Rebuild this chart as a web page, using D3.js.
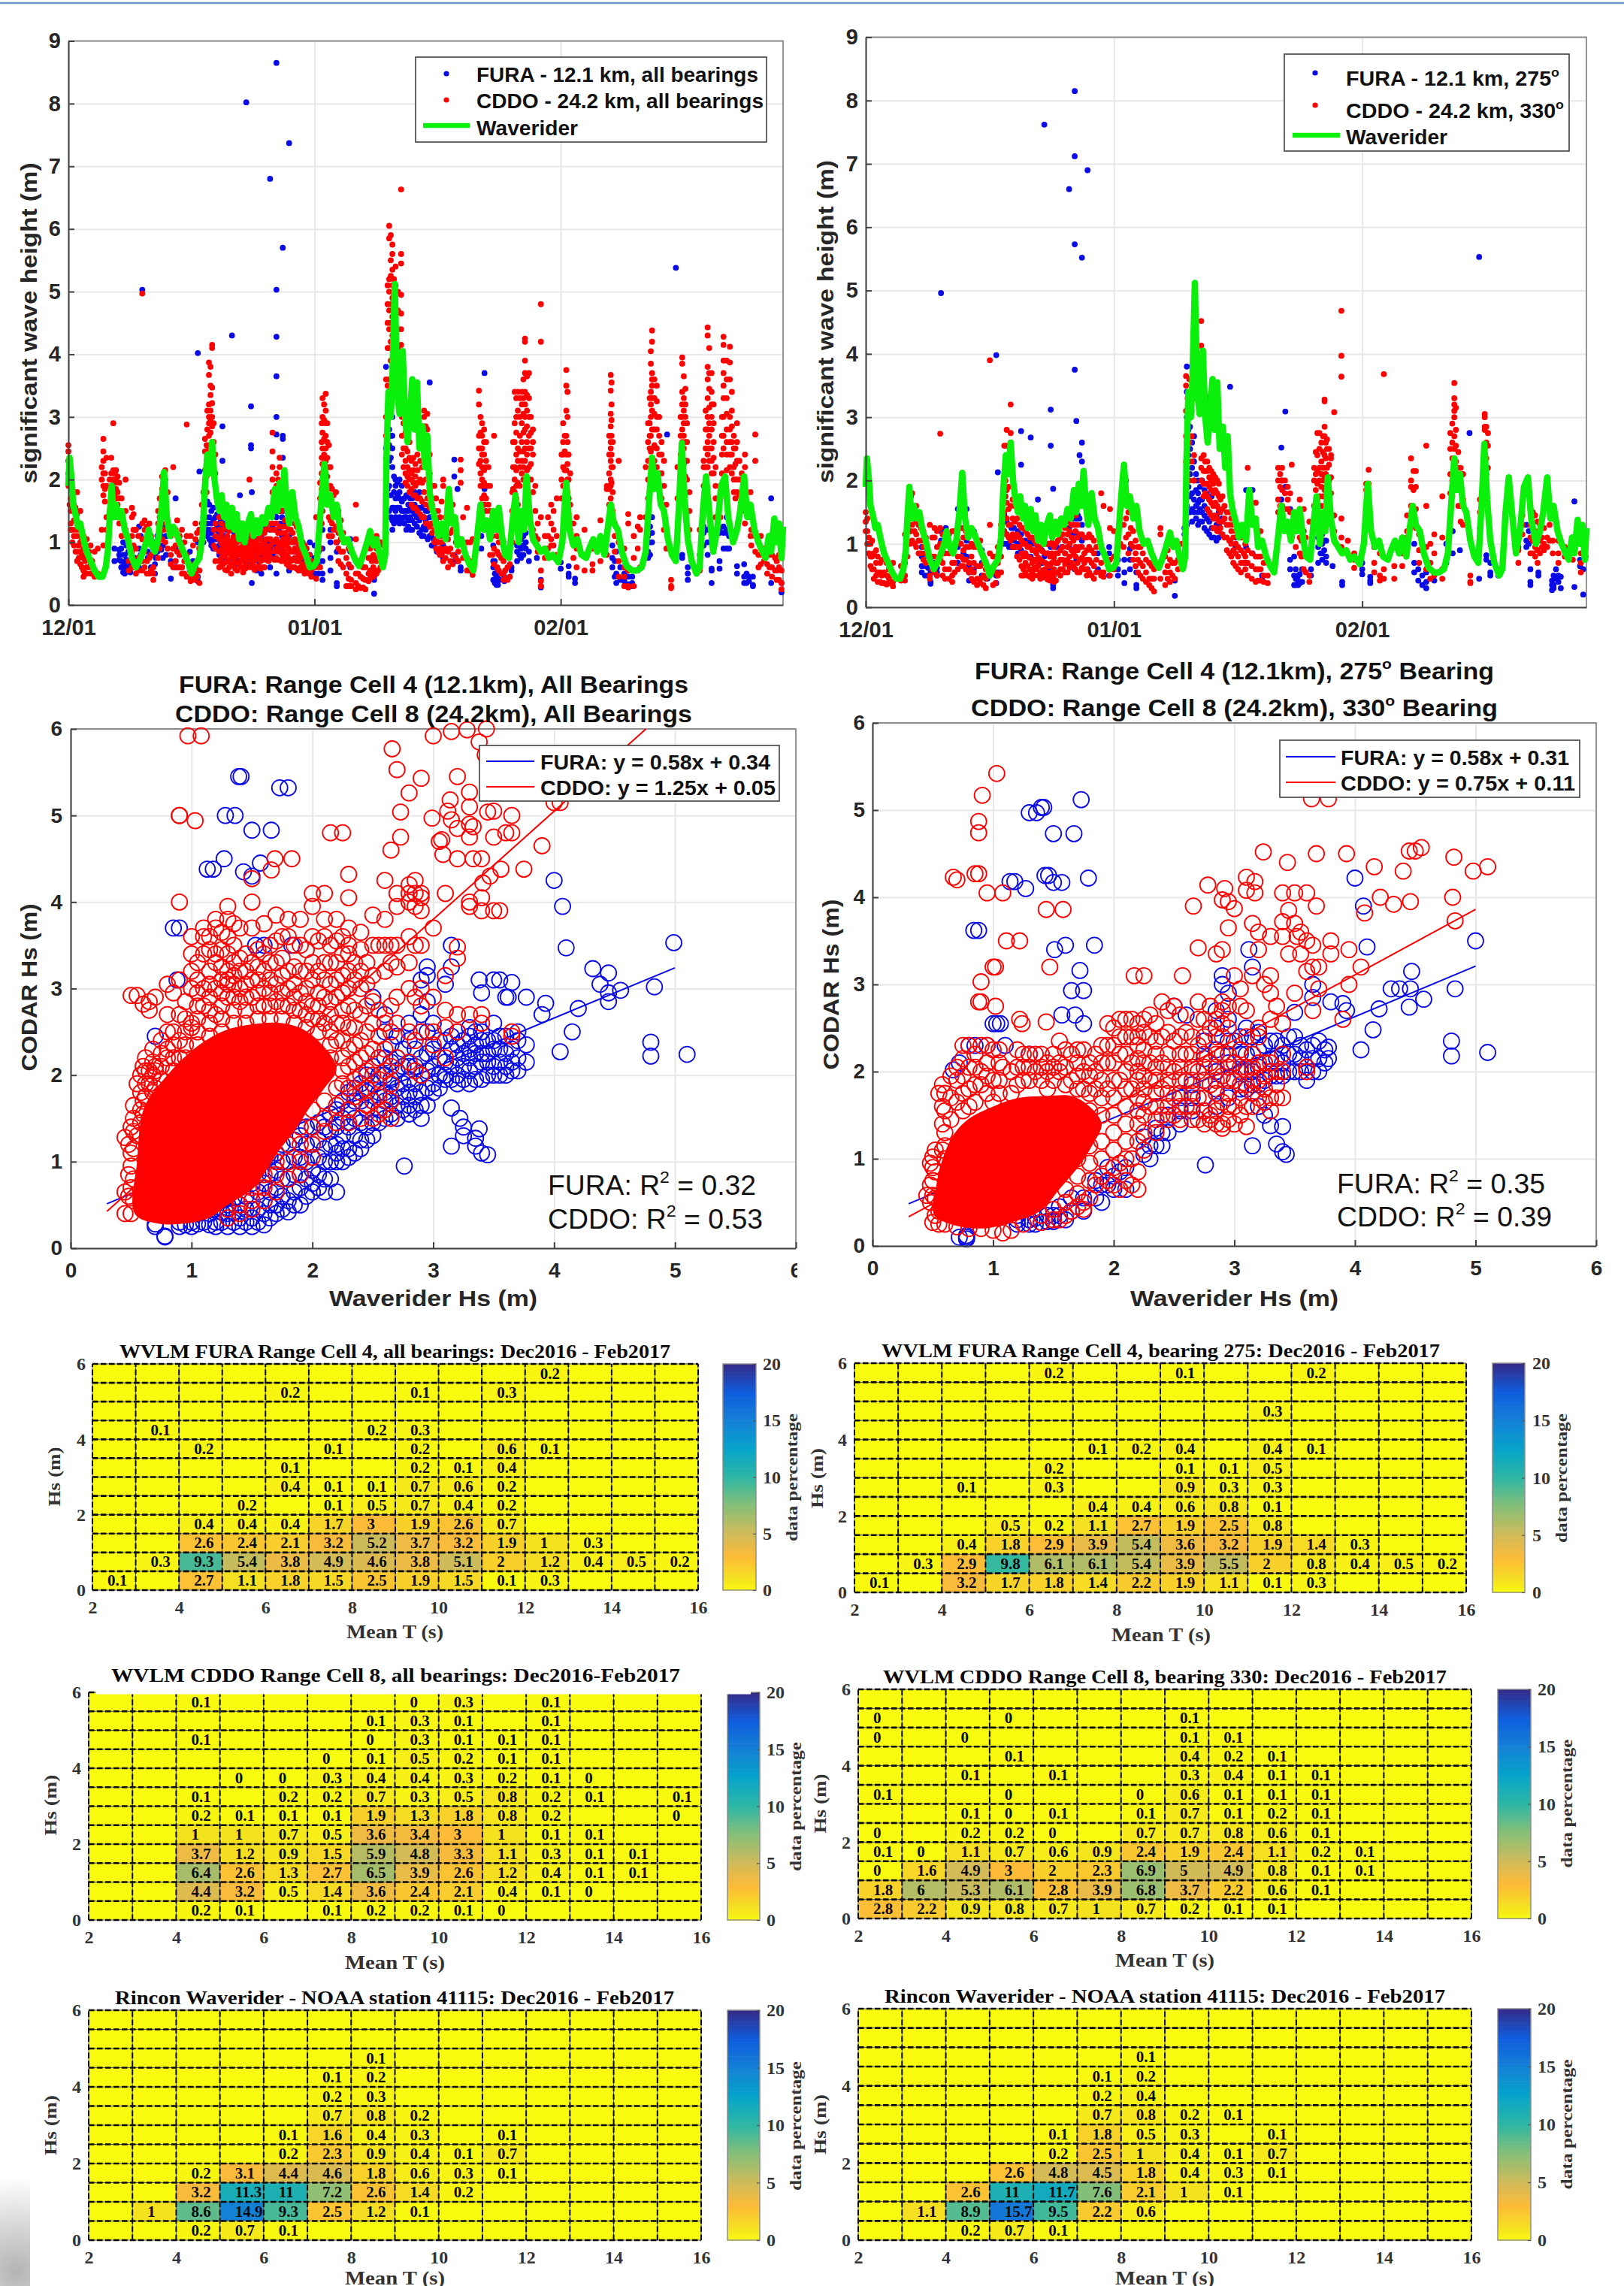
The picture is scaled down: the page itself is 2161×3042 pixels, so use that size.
<!DOCTYPE html>
<html><head><meta charset="utf-8"><style>html,body{margin:0;padding:0;background:#fff}svg{display:block}</style>
<script src="https://cdn.jsdelivr.net/npm/d3@7"></script></head><body>
<script>
const _=null;
const timeTickDays=[0,31,62], timeTickLabels=["12/01","01/01","02/01"];
const hsTicks=[0,1,2,3,4,5,6,7,8,9], scatterTicks=[0,1,2,3,4,5,6];
const heatXTicks=[2,4,6,8,10,12,14,16], heatYTicks=[0,2,4,6], cbarTicks=[0,5,10,15,20];
const parulaStops=[0,1,3,5,7.5,10,12.5,15,17.5,20];
const parulaColors=["#f9fb0e","#f4e21f","#fdbb38","#d1bb59","#87bf77","#2eb7a4","#06a4ca","#1481d6","#0f5cdd","#352a87"];

// Waverider significant wave height: [day since 12/01, Hs]
const waverider=[[0,1.9],[.15,2.35],[.4,2],[.6,1.6],[.9,1.45],[1.2,1.25],[1.5,1.3],[1.9,1.05],[2.3,.85],[2.8,.7],[3.3,.55],[3.8,.45],[4.3,.45],[4.7,.6],[5,.9],[5.2,1.4],[5.45,1.9],[5.7,1.4],[6,1.6],[6.3,1.4],[6.7,1.5],[7.1,1.2],[7.5,1.05],[8,.75],[8.5,.6],[9,.72],[9.4,.85],[9.8,1],[10.1,1.2],[10.5,.95],[10.9,.85],[11.3,1.05],[11.7,1.5],[12.05,2.12],[12.4,1.4],[12.8,1.1],[13.2,1.25],[13.6,1.15],[14,1],[14.5,.85],[15,.7],[15.5,.5],[16,.65],[16.5,.75],[16.9,1.1],[17.2,1.9],[17.5,2.4],[17.8,2.1],[18.1,2.6],[18.4,2],[18.7,1.7],[19,1.5],[19.3,1.75],[19.6,1.4],[19.9,1.6],[20.2,1.25],[20.6,1.55],[20.9,1.2],[21.2,1.45],[21.5,1.05],[21.9,1.3],[22.2,1],[22.6,1.3],[23,1.45],[23.3,1.1],[23.7,1.35],[24,1.15],[24.4,1.4],[24.8,1.3],[25.2,1.55],[25.6,1.4],[26,1.85],[26.3,1.5],[26.6,1.95],[26.9,1.6],[27.2,2.15],[27.5,1.6],[27.8,1.3],[28.2,1.8],[28.6,1.4],[29,1.25],[29.4,.95],[29.9,.8],[30.4,.6],[30.9,.62],[31.3,.7],[31.7,1.4],[32,1.9],[32.25,2.25],[32.6,1.6],[33,1.75],[33.4,1.4],[33.8,1.6],[34.2,1.2],[34.7,1],[35.2,1.05],[35.7,.85],[36.2,.7],[36.6,.62],[37,.75],[37.5,.95],[38,1.18],[38.4,.95],[38.8,1.05],[39.2,.8],[39.6,.6],[39.9,.8],[40.05,2.3],[40.3,3.4],[40.6,3],[40.8,3.6],[41.1,5.12],[41.4,3.4],[41.7,3.05],[42.1,4.05],[42.4,3],[42.7,2.6],[43,3],[43.3,3.6],[43.6,2.8],[43.9,3.55],[44.2,2.5],[44.6,2.85],[44.9,2.2],[45.2,2.7],[45.5,1.8],[45.8,1.55],[46.2,1.35],[46.6,1.1],[47,1.3],[47.5,1.05],[47.9,1.85],[48.3,1.3],[48.7,1.4],[49,.95],[49.5,1.05],[50,.8],[50.5,.65],[51,.55],[51.4,1],[51.9,1.6],[52.3,1.2],[52.7,1.35],[53.1,1.05],[53.5,1.5],[53.9,1.2],[54.2,1.55],[54.6,1.1],[55,.8],[55.5,.75],[55.9,1.3],[56.3,1.75],[56.7,1],[57.1,1.5],[57.4,1.2],[57.7,2.05],[58.1,1.4],[58.5,1.05],[59,.95],[59.5,.85],[60,.9],[60.5,.75],[61,.8],[61.7,.68],[62.2,1],[62.7,1.95],[63.1,1.2],[63.6,.95],[64.1,1.05],[64.6,.8],[65.2,.75],[65.6,.9],[66.1,1.05],[66.6,.85],[67,1.1],[67.5,.8],[67.9,1.2],[68.3,1.6],[68.7,1.3],[69.2,1.2],[69.7,.85],[70.3,.62],[71,.55],[71.6,.55],[72.2,.6],[72.7,.85],[73.1,1.6],[73.5,2.35],[73.8,1.85],[74.2,2.1],[74.6,1.6],[75,1.5],[75.5,1.05],[76,.8],[76.5,.7],[76.9,1.6],[77.25,2.58],[77.6,1.7],[78,1.05],[78.5,.7],[79.1,.5],[79.5,.6],[79.9,1.5],[80.3,2.05],[80.7,1.5],[81.2,.85],[81.7,1.2],[82.2,1.9],[82.7,2.05],[83.1,1.4],[83.7,1],[84.2,1.2],[84.6,1.5],[85.1,2.05],[85.5,1.4],[85.9,1.6],[86.4,1.2],[86.9,1],[87.4,.85],[87.8,.75],[88.2,1.1],[88.5,.85],[88.9,1.38],[89.2,1],[89.5,1.3],[89.8,.75],[90,1.25]];

// CODAR dots, rows of [day, Hs, Hs, ...]
const redAllRows=[[0,2.55,2.45,2.3,2.1,1.9],[.3,1.7,1.5,1.3,1.2],[.7,1.8,1.6,1.35,1.1,.95],[1.1,1.8,1.45,1.1,.85,.7],[1.5,1.5,1.25,1,.85,.65],[1.9,1.1,.9,.75,.55,.45],[2.3,1.05,.8,.6,.5],[2.8,.95,.65,.5],[3.3,.85,.55,.45],[3.7,.9,.5],[4.4,2.65,2.45,2.3,2.1,1.9,1.75,.95],[4.8,2.35,1.9,1.4,1.2],[5.4,2.35,2.1,1.9,1.7],[5.65,2.9,2.15,2,1.8,1.6],[6,2.15,2,1.85,1.7,1.5],[6.4,1.95,1.7,1.5,1.3],[7.2,2,1.5,1.2],[7.6,.95,.7,.55],[8,1.55,1.4,1.1,.85,.6],[8.5,1.2,.9,.6,.5],[9.3,4.97,1.3,1.05,.7,.55],[9.6,1.35,1.2,.85,.6],[10.2,1.3,1,.75,.5],[10.7,.9,.6,.4,.5],[11.3,1.5,1.3,1,.75],[11.8,2.05,1.85,1.55,1.3,1.05],[12.2,2.15,2,1.4,1],[12.9,1.1,.8,.65],[13.2,2.2,.9,.6],[13.7,1.35,1.1,.85,.6],[14.3,1.2,.9,.6,.5],[14.9,2.88,1.1,.8,.45],[15.4,1.1,.65,.45,.38],[16,1.3,1.05,.5,.4],[16.5,1.2,.9,.55,.35],[17,1.8,1.5,1.3],[17.2,2.65,2.45,2.15,2],[17.7,3.87,3.67,3.2,3,2.9,2.7,2.5],[18.1,4.15,4.1,3.47,3.22,3,2.85,2.6,2.4],[18.5,2.4,2.1,1.3,1.1,.9,.7],[19,1.4,1.2,1.05,.85,.7,.6],[19.5,1.5,1.2,1,.9,.8,.65],[20,1.3,1.1,.95,.85,.7,.55],[20.5,1.25,1,.9,.8,.65,.5],[21,1.2,1.05,.95,.85,.7,.58],[21.5,1.3,1.05,.9,.82,.65],[22,1.1,.95,.85,.75,.6,.52],[22.5,1.25,.98,.88,.72,.6],[22.8,2,1.15,1,.9,.8],[23.2,1.05,.95,.87,.75,.65],[23.7,1.2,.98,.9,.8,.6],[24.2,1.1,.95,.85,.7,.58],[24.7,1.15,.98,.88,.75,.6],[25.2,1.3,1.05,.92,.8,.7],[25.7,2.75,2.45,2.2,2,1.8,1.3,1],[26.2,2.1,1.9,1.3,1.05,.9,.75],[26.6,2.35,2.2,1.7,1.25,.95],[27,1.6,1.25,1.05,.9,.75],[27.5,1.25,1.1,.95,.8,.65],[28,1.2,1,.85,.7,.6],[28.5,1.3,1.05,.9,.75,.6],[29,1.2,.95,.8,.7,.55],[29.5,1,.85,.65,.55],[30,.9,.7,.55],[30.6,.7,.55,.45],[31.2,1.4,.6,.42],[31.7,1.95,1.7,1.3,.9,.6],[32,3.3,3,2.75,2.5,2.25,2,1.75,1.5],[32.4,3.37,3.1,2.9,2.7,2.5,2.3,2.1,1.9],[32.8,2.55,2.2,1.9,1.7,1.4,1.1],[33.2,1.85,1.6,1.3,1.1],[33.7,1.8,1.5,1.25,1],[34.3,1.35,1.05,.85,.65],[35,1,.75,.5,.3],[35.6,.85,.6,.4,.3],[36.2,1.6,1.05,.5,.35,.25],[36.8,.65,.45,.27],[37.4,.6,.4,.25],[38,.9,.75,.55,.42],[38.4,1,.8,.6,.45],[38.8,1.1,.9,.7,.5],[39.3,1,.8,.6],[39.7,.95,.75],[40,3.6,3,2.7,2.2],[40.4,6.05,5.85,5.2,5,4.7,4.4,4.1,3.6,3],[40.8,5.75,5.6,5.35,5.1,4.9,4.6,4.3,3.8,3.4],[41.2,5.4,5.1,4.6],[41.9,6.63,5.6,5.45,4.95,4.65,4.4,4.15,3.95,3.8],[42.2,3.3,2.9,2.5,2.2],[42.7,2.9,2.45,2.2,2.05,1.9],[43.2,2.3,2.1,2,1.85,1.6],[43.7,2.25,2.05,1.9,1.75,1.55],[44.3,2.7,2.3,2,1.7,1.45],[44.8,3.1,3,2.85,2.3,1.8,1.4],[45.2,3.05,2.8,2.6,1.7,1.3],[45.8,1.9,1.6,1.3,1.15],[46.3,1.7,1.35,1.05,.9],[46.8,1.4,1.1,.9,.8],[47.2,2,1.9,1.1,.85,.7],[47.8,1.3,1.05,.85,.6],[48.4,1.6,1.2,.8,.65],[49.1,1,.85,.7],[49.4,2.32,2.15,1.95,1.05],[50.2,1.55,1,.75,.55],[50.9,1.05,.55,.48],[51.7,3.42,3.2,2.7,2.5,2.25],[52.1,2.9,2.7,2.5,2.4,2.2,2,1.9,1.7],[52.6,2.6,2.3,2.2,1.9,1.7,1.5],[53.1,1.9,1.5,1.1,.8],[53.6,2.7,1.2,.9,.65],[54.2,1.4,1,.8,.55],[54.8,1,.7,.5,.4],[55.3,.9,.6,.4],[55.9,1.8,1.5,1],[56.2,3.4,2.9,2.6,2.2,2,1.8],[56.6,3.4,3.1,2.5,2.3,1.95,1.6],[57.1,3.4,3.2,2.9,2.6,2.3,2.1],[57.5,4.25,4.2,3.9,3.7,3.4,3.2,3,2.8,2.5,2.3],[58,3.7,3.3,3,2.7,2.5,2.2],[58.5,2.8,2.6,2.4,1.8,1.2],[59.1,1.3,1.05,.85],[59.5,4.8,4.2,1.4,.55,.38,.3],[60,1.1,.9,.75],[60.8,1.6,1.3,1.05,.95],[61.5,1.7,1.1,.8],[62.3,2.9,2.6,2.4,2.2,1.9],[62.7,3.75,3.5,3.1,2.7,2.4,2.15,1.95,1.7],[63.2,2.1,1.6,1.2],[64,1.4,1.1,.9,.6],[65,1.2,.8,.55],[66,.9,.65,.55],[67,1.35,.95,.7],[67.8,1.9,1.85,.8],[68.3,3.67,3.42,3.05,2.85,2.6,2.5,2.3,2,1.9,1.7],[68.8,1.3,1.1,.85],[69.3,2.3,1,.7,.45],[70,.9,.6,.45,.3],[70.5,1.45,1.3,.55,.3,.28],[71.2,1.1,.75,.3],[72,1.4,1.2,.6],[72.7,2.2,1.4,.9],[73.2,3.3,2.9,2.7,2.5,2.3,1.8],[73.5,4.38,4.2,3.7,3.6,3.5,3.3,3.1,2.8,2.5],[74.1,3.5,3.25,3,2.8,2.5,2.2,2],[74.7,2.6,2.4,2.1,1.7],[75.3,1.6,1.2,.9],[75.9,.4,.3,.27],[76.7,2.2,1.7],[77.3,3.95,3.85,3.4,3.2,3,2.8,2.6,2.4],[77.7,3.45,3.2,3,2.6,2.3,2.05],[78.2,1.8,1.5,1.2],[79.5,1.2,.8,.55],[80,2.3,2.2,1.9,1.6],[80.5,4.43,4.3,3.8,3.6,3.3,3,2.8,2.6,2.4,2.2],[81,3.7,3.4,3.2,3,2.8,2.5,2.3,2.1],[81.5,2.2,1.9,1.7,1.4],[82.1,1.9,1.7,1.4],[82.5,4.28,4.15,3.9,3.7,3.5,3.3,3,2.7,2.5],[83.3,4.12,3.87,3.6,3,2.8,2.6,2.4,2.2],[83.8,2.7,2.5,2.2,2,1.8],[84.2,2.9,2.6,2.3,2,1.8],[84.8,2.1,1.7,1.5],[85.2,2.4,2.2,1.6,1.3],[85.9,1.8,1.4,1.1],[86.5,2.72,2.3,1.1,.85],[87.2,1.1,.8,.65],[88,.85,.65,.5],[88.6,.8,.6,.45],[89.2,.7,.55,.4],[89.8,.95,.75,.55,.35,.25]];
const redAllExtra=[[.15,2.3,2,1.6],[.5,1.55,1.2,1],[.9,1.55,1.2,.85],[1.3,1.2,.95,.75],[1.7,1.05,.8,.6],[2.1,.95,.7,.5],[2.6,.85,.6],[3,.7,.5],[4.2,2.2,2,1.2],[4.6,2.1,1.85,1.65],[5.2,2,1.5],[5.85,2.1,1.95,1.75,1.55],[6.2,2.05,1.8,1.6,1.4],[6.7,1.7,1.4,1.1],[8.2,1.45,1.2,.95,.7],[8.8,1.1,.75,.55],[9.9,1.25,1,.7,.5],[10.4,1.1,.8,.55],[11.5,1.7,1.4,1.15,.9],[12,2.1,1.75,1.5,1.2],[12.5,1.8,1.25,.9],[13.5,1.2,.95,.7],[14,1.1,.8,.6],[14.6,1,.7,.5],[15.7,.95,.6,.42],[16.2,1.15,.7,.45],[16.8,1.6,1.3,1],[17.4,2.55,2.3,2.05,1.8],[17.5,3.1,2.8,2.55],[17.9,3.8,3.5,3.35,3.1,2.95,2.75,2.55,2.35],[18.3,2.9,2.6,2.3,1.2,.95],[19.25,1.3,1.12,.98,.88,.75,.62],[19.75,1.25,1.05,.93,.78,.68,.56],[20.25,1.18,1.02,.92,.83,.72,.6],[20.75,1.22,1.08,.96,.86,.76,.63],[21.25,1.15,1,.9,.78,.68,.55],[21.75,1.2,1.03,.92,.8,.7,.6],[22.25,1.16,1,.9,.8,.68,.58],[22.75,1.1,.95,.85,.74,.62],[23,1.22,1.02,.92,.82,.7,.6],[23.45,1.15,1,.9,.8,.7,.56],[23.95,1.05,.93,.84,.74,.62],[24.45,1.18,1.03,.92,.82,.72,.6],[24.95,1.22,1.05,.94,.84,.72],[25.45,1.2,1.05,.95,.85,.75],[25.95,1.5,1.2,1,.86,.72],[26.4,2,1.8,1.15,1,.85,.72],[26.85,1.5,1.15,.98,.82,.7],[27.25,1.35,1.15,1,.85,.7],[27.75,1.2,1.05,.9,.75,.62],[28.25,1.15,1,.85,.72,.6],[28.75,1.25,1,.85,.7,.58],[29.25,1.1,.9,.75,.6],[29.75,.95,.8,.62,.5],[30.3,.8,.62,.5],[31.9,2.9,2.6,2.35,2.1,1.85,1.6,1.3],[32.2,3.2,2.95,2.65,2.4,2.2,2],[32.6,2.9,2.6,2.35,2.05,1.85,1.6],[33,2.2,1.9,1.65,1.35],[33.4,1.75,1.45,1.2],[34,1.5,1.15,.9,.7],[34.6,1.15,.85,.6],[35.3,.9,.65,.42,.3],[36.5,.7,.5,.3],[37.1,.6,.42,.28],[37.8,.75,.5,.38],[38.2,.95,.7,.5],[38.6,1,.75,.55],[39,1,.75,.55],[40.2,5.1,4.8,4.5,4.1,3.5,3.1],[40.6,5.9,5.5,5.25,4.8,4.5,4.2,3.9,3.5,3.1],[41,5.2,4.95,4.7,4.4],[41.5,5,4.7,4.4,4.1],[42,3.6,3.3,3,2.7,2.4],[42.45,2.75,2.5,2.3,2.1,1.95],[42.95,2.6,2.35,2.15,2,1.8],[43.45,2.35,2.15,1.95,1.75,1.55],[43.95,2.4,2.15,1.95,1.7,1.5],[44.55,2.5,2.2,1.95,1.65,1.4],[45,2.85,2.6,2.3,2,1.6,1.3],[45.5,2.4,2.1,1.85,1.55,1.25],[46.1,1.9,1.5,1.2,1],[46.55,1.5,1.2,1,.85],[47,1.65,1.3,1,.8],[47.5,1.4,1.1,.9,.75],[48.1,1.45,1.15,.9,.7],[48.8,1.3,1,.75],[49.7,1.4,1,.75],[50.6,1,.7,.55],[51.9,3,2.75,2.5,2.3,2.1,1.9],[52.35,2.8,2.6,2.4,2.15,1.95,1.75,1.6],[52.9,2.2,1.9,1.6,1.3],[53.4,1.4,1.1,.8],[54,1.1,.85,.6],[54.5,1,.75,.5],[55,.8,.55,.42],[55.6,.65,.45],[56,2.6,2.2,1.85,1.5],[56.4,3.3,3,2.75,2.4,2.15,1.9,1.7],[56.85,3.3,3,2.7,2.45,2.2,1.9],[57.3,3.6,3.3,3.05,2.75,2.45,2.2,2],[57.75,3.65,3.35,3.1,2.85,2.6,2.4,2.15],[58.25,3,2.75,2.5,2.25,2],[58.8,1.9,1.5,1.1],[60.4,1.4,1.1,.9],[61.1,1.5,1.2,.95],[62.1,2.4,2,1.7],[62.5,2.7,2.45,2.15,1.9],[62.85,3.4,3,2.6,2.25,2,1.8],[63,2.4,2,1.7,1.45],[63.6,1.3,1,.75],[68.1,2.7,2.4,2.1,1.85,1.6],[68.4,3.55,3.2,2.95,2.7,2.4,2.2,1.95],[68.55,2.6,2.2,1.8,1.5],[71.7,1.25,.9,.55],[73,2.9,2.6,2.3,2,1.7],[73.35,4.05,3.85,3.4,3.2,3,2.7,2.45],[73.8,3.6,3.3,3.05,2.8,2.55,2.3,2.1],[74.4,3,2.7,2.4,2.1,1.85],[75,2.3,1.9,1.5,1.2],[77.1,3,2.7,2.4,2.1],[77.5,3.65,3.3,3.1,2.9,2.7,2.5,2.25],[77.9,2.9,2.6,2.3,2],[80.25,3.1,2.8,2.5,2.2,1.95],[80.7,4.1,3.7,3.45,3.15,2.9,2.7,2.5,2.3],[81.25,3.2,2.9,2.6,2.35,2.1],[82.3,3,2.7,2.4,2.1,1.85],[82.9,3.9,3.6,3.3,3.05,2.8,2.6,2.4,2.15],[83.55,3.4,3.1,2.85,2.6,2.4,2.1],[84,2.5,2.25,2,1.7],[84.5,2.3,2,1.75],[86,1.5,1.2,.95],[86.9,1,.8,.6],[87.6,.9,.7],[88.3,.8,.6],[89,.75,.55],[89.5,.8,.6,.4]];
const blueAllRows=[[6.4,.88,.8,.72],[6.9,1,.8,.62,.52],[7.3,.95,.72,.55],[7.8,.85,.68,.52],[8.4,1.2,.75,.6],[8.9,1.25,.9,.6],[9.3,5.03],[10,1,.85,.75],[10.9,.8,.65,.5],[11.2,1.1,1,.85],[11.7,1.3,1.1,.88],[12.3,1.1,.8],[12.9,.7,.42],[13.5,1.7,.9,.7,.6],[14.3,.85,.6],[15.3,.85,.55],[16,.6,.45],[16.3,4.02,1,.45,.38],[16.5,2.13,1.2,.9],[17,1.4,1],[17.5,1.65,1.3,1.2,1.1],[18,1.5,1.3,1.15,1,.95],[18.5,1.4,1.2,1.05,.9],[19,1.3,1.15,.95,.8],[19.4,2.85,2.3,1.25,1.1,.9,.7],[19.9,1.2,1.05,.85,.7],[20.6,4.3,1.2,.95,.75],[21.2,1.1,.9,.65],[21.6,1.75,1.15,.85],[22.4,8.02,1.2,.95,.7],[23,3.17,2.55,2.5,1.15,.65],[23.1,1.8,1,.75,.35],[23.7,1.05,.85,.55],[24.3,1.1,.95,.8,.5],[24.8,1.2,.95,.8],[25.4,6.8,1.2,.9,.6],[26,1.45,1.2,.95,.85],[26.2,8.65,5.03,4.28,3.65,3,2.72,1.4,.5],[26.7,1.3,.9],[27,5.7,2.7,2.65,2.35,1.5,.8],[27.8,7.37,1.1,.55],[29.5,.9,.7,.6],[30.4,1,.8],[31,.95,.75,.5],[31.5,.85,.7,.62,.5],[32,1.2,.9,.7,.5,.4],[33,1.2,1,.75,.55],[33.8,1,.85,.35,.3],[35.5,1.05,.85,.6],[38.5,.45,.4,.18],[40,1.15,2.5,2.35,3.8],[40.4,3.3,3.05,2.8,2.55,2.3,1.9,1.5],[40.8,3,2.7,2.5,2.2,1.55,1.35,1.2],[41.2,2,1.9,1.7,1.5,1.4],[41.7,2,1.8,1.7,1.55,1.4,1.3],[42.3,1.7,1.5,1.4,1.3],[42.8,1.6,1.5,1.35,1.25],[43.3,1.7,1.5,1.35,1.2],[43.9,1.75,1.55,1.4,1.25],[44.5,1.55,1.4,1.2,1.1],[45,1.5,1.35,1.2],[45.5,3.55,1.4,1.1],[46,1.3,1.05,.95],[46.8,1.2,1,.8],[47.2,.95,.75],[48.6,2.32,2.05,.8,.7],[49,1.85,.7],[49.4,.55,.6],[52,1.1,.9],[52.4,3.7,1.85,1.6],[53.5,.95,.7,.6,.4],[53.9,.6,.45,.35,.32],[54.3,.5,.4],[54.9,.45,.38],[55.8,.6,.55],[56.5,.95,.85,.7],[57,1.05,.9,.8,.75],[57.6,1.15,1,.9],[58,.85,.7],[59,.75],[59.5,.4,.3,.28],[62,.68,.58],[63,.5,.45,.62],[63.8,.35,.42],[68.5,.95,.75,.6],[69,.85,.5,.35],[70,.6,.5,.38],[71,.45,.35,.3],[73,1.1,.85,.8,.75],[73.5,1.4,1.15,1],[75.4,2.72],[76.5,5.38,.8],[77.3,.8,.75],[78,.6,.5,.4],[80,1.25,1.15,.95],[81,.55,.58,.35],[82,1.2,1.15,.7,.58],[82.9,1.4,1.2,1.15,.9],[84.2,.62,.5],[85.1,.65,.45,.35],[85.7,.45,.38],[86.2,.45,.32,.3],[88.5,1.7,.35],[89.8,.2,.35]];
const blueAllExtra=[[5.8,.9,.7],[6.65,.9,.7,.6],[7.1,.8,.65,.5],[7.55,.85,.6],[9.1,1.1,.8],[10.4,1.05,.8,.6],[11,1,.75],[11.9,1.25,.95,.75],[14,.8,.6],[15.7,.7,.5],[17.25,1.6,1.4,1.15],[17.75,1.6,1.4,1.2,1.05],[18.25,1.55,1.35,1.2,1.05,.9],[18.75,1.45,1.25,1.05,.9],[19.2,1.35,1.15,1,.85],[19.7,1.3,1.1,.95,.75],[20.2,1.2,1,.85,.7],[20.9,1.15,.95,.75],[21.4,1.1,.9,.7],[22,1.15,.9,.75],[22.7,1.2,1,.7],[23.4,1.25,1,.75],[24,1.2,.95,.7],[24.6,1.25,1,.8,.6],[25.1,1.3,1,.8],[25.7,1.45,1.25,1,.8],[26.5,1.5,1.2,.95],[26.9,1.4,1.1,.85],[27.3,1.3,1,.8],[28.5,1,.85],[40.2,2.7,2.2,1.85],[40.6,3.1,2.7,2.35,1.75,1.4],[41,2.05,1.8,1.55,1.3],[41.45,1.95,1.75,1.55,1.35],[42,1.9,1.65,1.5,1.35],[42.55,1.75,1.5,1.4,1.2],[43.05,1.7,1.55,1.4,1.2],[43.6,1.8,1.6,1.45,1.3],[44.2,1.8,1.55,1.35,1.15],[44.75,1.6,1.4,1.25,1.1],[45.25,1.5,1.25,1.05],[45.75,1.3,1.1,.95],[46.4,1.2,1,.85],[53.7,.7,.5,.35],[54.1,.55,.42,.32],[56.8,.95,.8],[57.3,1.1,.95,.8],[68.8,.7,.45],[69.5,.6,.4],[70.5,.45,.33],[73.25,1.25,1,.8],[80.5,1.2,1,.8],[82.5,1.25,1.15,.9],[83.2,1.1,.9],[85.4,.5,.35]];
const blueBearingRows=[[7,.95,.8,.65,.55],[7.8,.8,.62,.5],[8.1,.55,.4,.37],[8.9,.62,.55,.5],[9.4,4.96,1.2,1.05,.85],[10,1.25,.98],[11.5,1.55,.95,.7],[12.6,1.55,1.05,.8],[12.9,.65,.55,.42],[13.5,1.2,.98,.6],[14.5,.9,.7,.5],[15.2,.6,.45],[16.3,3.98,.5,.38],[16.5,2.13,.55],[17.3,1.45,1.2,1],[17.9,1.3,1.1,.98,.95],[18.5,1.25,1.05,.95],[19.4,2.78,2.25,1.15,.9],[20.6,2.68,1.05,.8],[21.5,1.7,.95,.7],[22.3,7.62,.8,.55],[23.1,3.12,2.55,.95,.5],[23.4,1.87,1.2,.35,.3],[24.5,.95,.75],[25.4,6.6,1.25,.95,.7],[26.1,8.15,7.12,5.73,3.75,1.3,.6],[26.3,2.94,1.4,.75],[26.7,2.4,1.4,1.1],[27,5.52,2.6,2.3,1.3,1.05],[27.7,6.9,.6],[29,.85,.6],[30.4,.95,.85,.5],[31.5,.95,.75,.6,.5],[32.3,.75,.55,.38],[33,.92,.75,.6],[33.8,.55,.35,.3],[38.6,.42,.18],[39.8,1.25,1.15],[40.1,3.8,3.4,3,2.6,2.2,1.6,1.3],[40.5,2.85,2.5,2.1,1.75,1.5],[41,2.7,2.3,2,1.7,1.5],[41.5,2,1.8,1.65,1.5,1.3],[42,2,1.7,1.5,1.35],[42.6,1.8,1.55,1.4,1.2],[43.2,1.75,1.45,1.25,1.1],[43.8,1.6,1.45,1.3,1.05],[44.5,1.4,1.15],[45.5,3.48,1.05],[46.2,1.1,.95],[47.5,1.85,.95,.7],[48.3,1.85,.85],[49.5,.5,.45],[51.9,2.52,2,1.7],[52.4,3.09,1.9],[53,1.55,.75,.6],[53.5,.8,.5,.35],[54,.5,.42,.35],[54.5,.6,.4],[55.6,.6,.5],[56.5,1.1,.95,.7],[57,1.15,1,.85,.75],[57.5,1.05,.8,.7],[58.3,.65],[59.5,.4,.35],[62,.7,.6,.52],[63,.48,.42,.38],[68.5,1,.7,.55],[69,.6,.42],[70,.55,.4,.3],[71,.42],[72.5,1,.75,.7],[73.3,1.2,.85],[74.2,.9],[75.4,2.75],[76.6,5.53,.45],[77.5,.82,.75],[78,.7,.55,.5],[79,.5],[81.5,1.15,.95],[82.5,1.3,1.05,.95],[83,.6,.4,.35],[84,.55,.5],[85.7,.42,.35,.27],[86.2,.6,.45],[86.8,.48,.3],[88.5,1.67,.32],[89.2,.65,.75],[89.6,.6,.2]];
const blueBearingExtra=[[7.4,.85,.65,.5],[8.5,.7,.55],[12.2,1.25,.85],[17.6,1.35,1.15,1],[18.2,1.25,1.05,.95],[19,1.2,1,.85],[19.9,1.05,.85,.65],[20.3,1,.8],[21,1,.75],[22,.9,.7],[22.8,1,.85,.6],[23.8,.95,.7],[24.9,1.05,.85],[25.8,1.4,1.15,.9],[26.5,1.45,1.15],[40.3,3.3,2.8,2.4,1.9,1.5],[40.75,2.6,2.2,1.8,1.55,1.35],[41.25,2.1,1.85,1.6,1.4],[41.75,1.9,1.7,1.55,1.35],[42.3,1.85,1.6,1.45,1.25],[42.9,1.7,1.5,1.35,1.15],[43.5,1.6,1.4,1.25,1.1],[44.1,1.5,1.3,1.1],[53.7,.6,.45,.35],[54.2,.52,.38],[56.8,1,.85],[57.25,1.05,.9],[69.5,.5,.35],[82.8,1.2,1],[85.9,.5,.35,.3],[86.5,.5,.4]];
const redBearingRows=[[0,1.5,1.35,1.2],[.4,1.1,1,.85],[.8,1.05,.8,.6],[1.3,.9,.7,.5],[1.8,.7,.55,.4],[2.3,.85,.55,.38],[2.9,.6,.45,.38],[3.4,.7,.4,.33],[4.4,.65,.42],[4.9,1.15,.7,.5,.42],[5.5,1.4,1.2,1],[5.8,1.8,1.6,1.3,1.05],[6.3,1.6,1.35,1.15,.95],[6.9,1.25,1.05,.85],[7.5,1.1,.85,.7],[8,1.3,.75,.5,.45],[8.6,1.25,1.1,.8,.55],[9.3,2.74,1.25,1,.75],[9.9,1,.85,.6,.45],[10.8,1.2,.95,.7,.5,.4],[11.5,1.25,1.05,.8,.6],[12.2,1.1,.9,.75,.65],[12.9,1.15,.95,.7,.55],[13.5,.95,.7,.55,.4],[14.3,1.05,.65,.45,.38],[15,.6,.45,.3],[15.5,3.9,1.3,.85,.55],[16.2,.8,.55,.38],[16.9,1.3,.8,.55],[17.3,2.55,1.5,1.2],[17.6,2.8,2.55,1.85,1.65,1.4,1.15],[18.1,3.2,2.75,2.6,1.6,1.3,1.05],[18.6,1.6,1.35,1.1,.95],[19.2,1.3,1.1,.95,.75],[19.7,1.25,1,.8,.6,.5],[20.2,1.15,.95,.8,.65,.5],[20.8,1.1,.9,.7,.55,.45],[21.3,1,.85,.72,.6],[21.8,1.15,.95,.75,.55,.45],[22.4,1,.85,.7,.6,.5],[23,1,.8,.65,.5,.42],[23.5,.95,.78,.6,.5,.4],[24,1.05,.85,.7,.55],[24.6,1.15,.95,.75,.6],[25.2,1.35,1.15,.95,.75,.55],[25.7,1.5,1.3,1.1,.9,.7],[26.2,1.45,1.2,.95,.8,.6],[26.7,1.15,.95,.75,.55],[27.3,1.1,.85,.7,.6],[27.9,1.15,.95,.75,.55],[28.5,1.05,.85,.65,.45],[29.4,1.8,.7,.55,.5],[29.7,1.6,.55,.48],[30.5,1.55,1.25,.75,.5],[31,1.2,.8,.6],[32.2,2.1,1.75,1.3,.95],[32.8,1.75,1.5,1.15,.85],[33.4,1.2,.95,.75],[34,.95,.75,.55],[34.6,.85,.65,.45],[35.4,.7,.45,.35],[36,.6,.45,.25],[36.8,1.25,1.15,.7,.45],[37.4,.8,.55,.35],[38,1,.75,.55,.4],[38.6,1,.7,.45],[39.5,1,.8,.65],[40,3.65,3.5,3.1,2.7,2.3],[40.4,3.6,3.1,2.6,2],[41,3.3,2.4,2],[41.9,4.52,4.13,2.35,2.2,2],[42.4,3.35,2.3,2.15,1.95,1.8],[42.9,3.3,2.2,2.05,1.9,1.7,1.5],[43.4,2.1,1.95,1.8,1.6,1.4,1.25],[43.9,2,1.8,1.6,1.4,1.2],[44.3,2.85,2.8,1.7,1.5,1.25],[44.8,2.6,1.6,1.4,1.1],[45.4,1.5,1.3,1.05,.85],[45.9,1.3,1.1,.9,.7],[46.5,1.2,.95,.8,.6],[47.2,1.1,.85,.7],[47.7,2.2,.9,.7,.5],[48.7,1.65,1.4,.8,.6,.4],[49.3,1.2,.8,.6,.42],[50.2,.7,.5,.38],[51.5,2.2,2,1.7,1.5],[52,2.2,2,1.85,1.6,1.4],[52.7,1.9,1.7,1.55,1.3],[53.2,2.25,1.3,1.1],[54.2,1.7,1.45,1.1,.85],[54.7,1.55,1.2,.85,.6],[55.4,1.35,.8,.5,.4],[56,2.2,2,1.6,1.3],[56.4,2.75,2.4,2.15,1.95,1.7],[56.9,2.6,2.3,2.1,1.9,1.6],[57.3,3.28,3.25,2.85,2.7,2.4,2.2,2.05,1.85],[57.6,2.65,2.5,2.2,2],[58.1,2.4,2.35,2.05,1.8],[58.5,3.08,1.45,1.2],[59.4,4.68,3.97,3.64,1.4,1.1,.95],[60.2,1.05,.85],[61,.85,.75,.62],[62.5,1.95,1.85,1.4],[62.8,2.17,1.95,1.7,1.5],[63.5,.95,.7,.55],[64.2,.85,.5,.42],[64.7,3.68,.6,.45],[66,.65,.45],[67,1.1,.85,.65],[67.6,1.45,1.2,1.1],[68.1,2.35,2,1.9,1.6,1.45],[68.7,2.15,1.9,1.55,1.25],[69.1,1.15,.9,.7],[70,2.55,1.6,.95,.6],[70.5,1,.7,.45],[71,1.15,.85,.5],[72,1.75,1.1,.6,.45],[73,2.75,2.5,2.1,1.8],[73.5,3.54,3.3,3.2,3.1,3,2.7,2.5,2.3,2.1],[74,2.45,2.2,1.95,1.6],[74.6,2.1,1.7,1.3],[75.5,1.1,.5,.4,.38],[76.7,1.7,1.5,1.25],[77.3,3.05,3,2.85,2.8,2.55,2.2],[77.7,2.75,2.55,2.2],[81.5,1.1,.9,.7],[82,1.45,1.3,1.15],[83,1.55,1.3,1.1,.85],[83.6,1.45,1.2,.95,.8],[84.2,1.3,1.05,.85],[84.7,1.55,1.25,1,.9],[85.1,1.85,1.65,1.1,.95],[85.8,1.4,1.05,.85],[86.5,1.05,.85,.7],[87.3,.95,.8],[88.3,.9,.75],[89.3,.85,.7,.55],[89.9,.95,.8]];
const redBearingExtra=[[.2,1.4,1.2,1],[.6,1,.8,.65],[1,.85,.6,.45],[1.5,.8,.55,.4],[2,.75,.5,.38],[2.6,.7,.5,.36],[3.1,.5,.38],[5.2,1.3,1.05,.8],[5.65,1.75,1.5,1.2],[6.1,1.45,1.2,1],[6.6,1.3,1.05,.85],[7.2,1.2,.95,.75],[8.3,1.1,.8,.6],[8.9,1.2,.95,.7,.5],[9.6,1.15,.9,.7,.5],[10.4,1.15,.85,.6,.45],[11.1,1.2,.95,.7,.55],[11.9,1.25,1,.8,.65],[12.5,1.2,.95,.75,.6],[13.2,1,.8,.6,.45],[13.9,.95,.65,.45,.35],[14.7,.7,.5,.35],[15.9,.8,.55,.35],[16.5,.95,.7,.5],[17.45,2,1.75,1.4],[17.85,1.9,1.55,1.3,1.1],[18.35,1.7,1.4,1.15,.95],[18.9,1.4,1.15,.95,.8],[19.45,1.25,1.05,.85,.65,.5],[19.95,1.2,1,.85,.7,.55],[20.5,1.1,.95,.78,.6,.48],[21.05,1.05,.9,.75,.62,.5],[21.55,1.1,.92,.78,.65,.5],[22.1,1.05,.88,.72,.58,.47],[22.7,1,.85,.68,.55,.44],[23.25,1.02,.85,.7,.55,.45],[23.75,1,.85,.7,.55,.42],[24.3,1.1,.9,.75,.6,.5],[24.9,1.25,1.05,.85,.68,.55],[25.45,1.4,1.2,1,.8,.62],[25.95,1.5,1.3,1.05,.85,.65],[26.45,1.3,1.1,.9,.7,.55],[27,1.15,.95,.78,.62],[27.6,1.1,.9,.75,.6,.5],[28.2,1.1,.9,.7,.5],[28.8,.95,.75,.55],[31.8,1.6,1.3,1],[32.5,2,1.7,1.4,1.1],[33.1,1.5,1.25,1],[33.7,1.05,.85,.65],[34.3,.95,.7,.5],[35,.75,.55,.4],[35.7,.65,.45,.3],[37.7,.9,.65,.45],[38.3,1,.7,.5],[39,1,.75,.6],[40.2,3.3,2.9,2.5,2.1],[40.7,3.1,2.7,2.3],[42.2,2.4,2.15,1.95,1.75],[42.65,2.3,2.15,1.95,1.75,1.55],[43.15,2.15,2,1.85,1.65,1.45],[43.65,2.05,1.85,1.65,1.45,1.25],[44.1,1.95,1.75,1.55,1.35,1.2],[44.55,1.75,1.55,1.35,1.15],[45.1,1.5,1.3,1.1,.9],[45.65,1.4,1.2,1,.8],[46.2,1.2,1,.85,.65],[46.85,1.1,.9,.7,.55],[47.4,1,.8,.6],[48.2,.85,.65,.45],[48.95,.8,.6,.42],[49.7,.7,.5,.4],[51.75,2.1,1.9,1.6,1.45],[52.35,2,1.8,1.55,1.35],[53,1.8,1.5,1.25],[53.7,1.5,1.2,.95],[54.4,1.35,1.05,.8],[54.95,1.1,.8,.55],[56.2,2.45,2.1,1.85,1.5],[56.65,2.75,2.5,2.2,2,1.75],[57.1,2.7,2.45,2.2,2,1.75],[57.45,2.6,2.35,2.1,1.9],[57.85,2.5,2.25,2,1.8],[68.4,2.15,1.85,1.55,1.3],[73.25,2.9,2.6,2.35,2,1.75],[73.7,3.15,2.8,2.55,2.3,2.1,1.85],[74.3,2.2,1.9,1.6,1.35],[77.5,2.85,2.6,2.35,2.1],[83.3,1.5,1.25,1.05,.85],[83.9,1.35,1.1,.9,.7],[84.45,1.4,1.1,.95],[85.4,1.6,1.3,1.05]];

// Scatter rings, rows of [Waverider Hs, CODAR Hs, CODAR Hs, ...]
const scatterRedAll=[[.45,.4,.65,1.28],[.5,.4,.7,1.1,1.4,.95,2.92],[.55,1.3,1.9,2.92],[.6,1.7,1.55,2.1,2.82],[.65,2.05,2.75,2.85,1.9],[.7,2.05,2.9,2.1,1.85],[.8,2.3,2.5,2.2,3.05,2.7],[.9,2.4,2.2,3.1,2.7,4,5,5],[.97,5.92],[1,2.6,3,3.2,3.4,3.6,2.55],[1.03,4.94],[1.08,5.92],[1.1,3.4,3.7,3.6,3,2.8],[1.2,3.7,3.4,3.8,3.3,3,2.7],[1.3,3.95,3.8,3.6,3.4,3.2,3.05,2.9,3.1],[1.4,3.7,3.35,3.2,3,2.85],[1.5,4,3.7,3.3,3.1,2.9,4.27],[1.6,3.75,3.4,3.2,3,2.8],[1.66,4.37],[1.69,4.5],[1.7,3.85,3.55,3.3,3.05,2.85],[1.8,3.8,3.6,3.2,3,2.8],[1.83,4.5],[1.9,3.8,3.5,3.2,2.95,2.75],[2,4.1,3.95,3.6,3.3,3.1,2.8,2.65],[2.1,4.1,3.8,3.6,3.3,3.1,2.9,2.6],[2.15,4.8],[2.2,3.8,3.55,3.3,3.1,2.9,2.6,2.4],[2.25,4.8],[2.3,4.32,4.05,3.7,3.5,3.4,3.2,3,2.8,2.55,2.3,2.1],[2.4,3.65,3.45,3.2,3,2.7,2.4,2.2,2,1.8,1.5],[2.5,3.85,3.5,3.15,2.85,2.6,2.3,2,1.7,1.5],[2.6,4.25,3.8,3.5,3.2,2.6,2.3,2.05,1.6],[2.65,4.6],[2.66,5.77],[2.7,4.1,3.95,3.5,3.25,2.9,2.6,2.2,5.53],[2.73,5.04,4.75],[2.8,4.2,4.1,4,3.6,3.3,3,2.5,2.15,5.26],[2.85,4.25,4.1,3.95,3.5,2.9,2.4,2.05],[2.9,4.1,4.05,3.9,3.5,3,2.8,2.5,2,5.43],[3,3.7,2.9,2.5,2.35,5.92],[2.99,4.97],[3.05,4.7],[3.07,4.72],[3.08,4.55],[3.1,4.1,3.15,2.75,2.55,2.2],[3.12,5.05],[3.14,5.18],[3.15,5.97,4.95],[3.2,3.35,3.48,2.7,2.5,5.45,4.85,4.5],[3.28,5.99],[3.3,3.95,4,2.7,5.27,5.1,4.9,4.75],[3.33,4.87,4.5],[3.38,5.85],[3.4,4.05,2.7,2.6,3.9,4.5],[3.41,4.22],[3.44,6],[3.43,5.7],[3.45,5.04],[3.47,4.3],[3.5,3.9,5.05,4.75],[3.55,3.9],[3.56,4.38],[3.6,4.8],[3.65,2.5,2.45,5,4.8],[3.75,4.38],[3.9,4.65],[4,5.15],[4.05,5.15]];
const scatterRedAllExtra=[[.48,.6,.85,1.2],[.52,.55,.8,1.15,1.35,1.5,1.65],[.58,1.45,1.6,1.8,2],[.62,1.75,1.9,2.05,2.2],[.68,1.8,2,2.15,2.3],[.75,1.95,2.1,2.25,2.4],[.85,2.05,2.2,2.35,2.5,2.95],[.95,2.2,2.35,2.5,2.65,2.85],[1.05,2.35,2.5,2.65,2.8,2.95,3.1,3.3],[1.15,2.45,2.6,2.75,2.9,3.05,3.2,3.45,3.6],[1.25,2.5,2.65,2.8,2.95,3.1,3.25,3.45,3.65],[1.35,2.6,2.75,2.9,3.05,3.15,3.3,3.5,3.75],[1.45,2.6,2.75,2.9,3.05,3.2,3.4],[1.55,2.65,2.8,2.95,3.1,3.25,3.45],[1.65,2.65,2.8,2.95,3.1,3.3,3.5],[1.75,2.65,2.8,2.95,3.15,3.35,3.6],[1.85,2.6,2.75,2.9,3.05,3.25,3.5],[1.95,2.55,2.7,2.85,3,3.2,3.45],[2.05,2.5,2.65,2.8,2.95,3.2,3.55],[2.15,2.2,2.35,2.5,2.7,2.85,3.05,3.3,3.5],[2.25,1.9,2.05,2.2,2.4,2.6,2.75,2.95,3.15,3.4,3.6],[2.35,1.75,1.95,2.15,2.35,2.55,2.75,3.1,3.3],[2.45,1.65,1.85,2.05,2.25,2.5,2.8,3.05,3.3],[2.55,1.55,1.75,1.95,2.2,2.45,2.75,3.5],[2.65,1.5,1.7,1.9,2.1,2.5,2.8,3.3,3.5],[2.1,1.7,1.5,1.35],[2,1.6,1.4,1.2,1.05],[1.9,1.4,1.2,1,.85],[1.8,1.2,1,.8],[1.7,1,.85,.65],[1.6,.85,.7,.55],[1.5,.7,.55,.45],[1.4,.5,.4],[1.3,.45,.35],[2.2,1.85,1.65,1.45],[2.3,1.85,1.6,1.45]];
const scatterBlueAll=[[.7,.28,.25,2.45],[.78,.13,.14],[.85,3.7],[.88,3.1],[.9,.3,.25,3.7],[1,.3,.25],[1.1,.3,.5],[1.13,4.38],[1.18,4.38],[1.2,.25,.3,.45],[1.27,4.5],[1.28,5],[1.3,.25,.4,.5,.6],[1.36,5],[1.39,5.45],[1.4,.25,.35,.5,.7],[1.41,5.45],[1.43,4.35],[1.5,.25,.35,.55,.75,.9,4.83,4.3],[1.53,3.5],[1.57,4.45],[1.6,.27,.4,.55,.75,1,3.5],[1.66,4.83],[1.7,.4,.5,.7,.9,1.1],[1.73,5.32],[1.8,.42,.55,.8,1,1.2,5.32],[1.83,3.5],[1.9,.5,.7,.85,1.05,1.3],[2,.65,.75,.9,1.2,1.4],[2.1,.65,.8,1,1.15,1.4],[2.2,.65,1,1.1,1.2,1.4,1.6],[2.3,1.05,1.15,1.4,1.6,1.8],[2.4,1.15,1.25,1.45,1.7,1.9],[2.5,1.3,1.45,1.7,1.9,2.1,2.9],[2.6,1.5,1.7,1.8,2,2.2,2.5,2.7],[2.7,1.5,1.65,1.85,2.05,2.2,2.45],[2.76,.95],[2.8,1.55,1.65,1.8,1.95,2.1,2.4,2.6],[2.9,1.5,1.65,1.8,2,2.2,2.5,2.7,3.1],[2.95,3.25],[3,1.8,1.9,2.1,2.3,2.6],[3.1,1.95,2,2.15,2.4,3.05],[3.15,1.62,1.18,3.5,3.25],[3.2,1.9,2,2.2,2.35,2.5],[3.22,1.5],[3.25,1.4,1.3],[3.3,1.9,2.05,2.2,2.3,2.45,2.55],[3.35,1.27,1.18],[3.38,1.38,3.1],[3.4,1.95,2.15,2.25,2.4,2.5,2.95,1.1],[3.45,1.08],[3.5,2,2.1,2.3,2.4,2.6,3.1],[3.55,3.1],[3.6,2,2.1,2.25,2.45,2.9],[3.62,2.9],[3.65,3.07],[3.7,2.05,2.2,2.4,2.5],[3.77,2.15,2.35,2.9],[3.9,2.7],[3.93,2.83],[4,4.25],[4.05,2.27],[4.07,3.95],[4.1,3.47],[4.15,2.5],[4.2,2.77],[4.32,3.23],[4.38,3.05],[4.45,3.18,2.95,2.85],[4.55,2.98],[4.8,2.38,2.22],[4.83,3.02],[4.99,3.53],[5.1,2.24]];
const scatterBlueAllExtra=[[.95,.27],[1.05,.28,.4],[1.15,.27,.4],[1.25,.3,.42,.55],[1.35,.3,.42,.58],[1.45,.3,.45,.6,.8],[1.55,.3,.45,.65,.85],[1.65,.35,.5,.65,.85,1.05],[1.75,.45,.6,.8,1,1.2],[1.85,.5,.65,.85,1.05,1.25],[1.95,.6,.8,1,1.2,1.4],[2.05,.7,.85,1.05,1.25,1.45],[2.15,.8,1,1.2,1.35,1.55],[2.25,1,1.15,1.3,1.5,1.7],[2.35,1.1,1.3,1.5,1.7,1.85],[2.45,1.25,1.4,1.6,1.8,2],[2.55,1.45,1.6,1.8,2,2.2],[2.65,1.55,1.75,1.95,2.15,2.35],[2.75,1.6,1.75,1.9,2.1,2.3],[2.85,1.6,1.75,1.9,2.1,2.3],[2.95,1.65,1.85,2.05,2.25,2.5,2.85,3.15],[3.05,1.85,2,2.2,2.4],[3.15,1.95,2.1,2.3,2.45],[3.25,1.95,2.1,2.25,2.4],[3.35,1.95,2.1,2.25,2.35,2.5],[3.45,2,2.15,2.25,2.4],[3.55,2,2.15,2.3,2.45],[3.65,2.05,2.15,2.3]];
const scatterRedBearing=[[.45,.58],[.5,.27,.75,.9,1.02,.58],[.55,.4,.25,1.75],[.6,.25,1,1.15,1.3,1.55,1.75],[.67,4.23],[.7,1.9,1.65,2.05,.22,4.2],[.8,1.8,2.05,2.3,1.6,.2],[.85,4.27],[.88,4.27,4.87,4.74,2.8],[.9,1.85,2,2.3,.2,3.03,2.8],[.91,5.17],[.95,4.05],[1,1.65,1.9,2.25,.18,3.2],[1.02,3.2,2.75],[1.03,5.42],[1.08,2.05,.15,4.05],[1.11,3.5],[1.15,1.75,2,.18],[1.22,3.5,2.6],[1.24,2.55],[1.25,1.9,2.2,2.05,.25],[1.35,2,2.2],[1.44,3.86,2.57],[1.45,2.1,2,1.8],[1.47,3.2],[1.55,2.1,2.35,2,.3],[1.58,3.86],[1.65,2.2,1.9,.4],[1.75,2.25,2,1.8,.42,.5],[1.85,2.2,2,1.8,.7],[1.95,2.55,2.3,2.1,1.8,.75],[2.05,2.6,2.4,2.2,1.9,.95,.65],[2.15,2.6,2.4,2.1,1.8,.7,1],[2.17,3.1],[2.2,.65,.85,1.4,1.7,2.55,2.3,2],[2.25,3.1],[2.3,2.65,2.4,2.1,1.9,1.6],[2.4,2.8,2.4,2.1,1.8,1.5],[2.5,2.75,2.35,2,1.7,1.5],[2.57,3.1],[2.6,2.45,2.2,1.9,1.6],[2.66,3.9],[2.7,2.6,2.8,2.3,2,1.7,1.45,3.42],[2.78,4.14],[2.8,2.75,2.5,2.1,1.85,1.5,1.45],[2.85,3.35],[2.9,2.8,2.7,2.55,2.4,2.2,1.95,1.65,1.4,1.35,3.4,3.97],[2.92,4.1],[2.95,3.95,3.65],[3,2.1,1.9,1.6,1.4,3.87,3.1],[3.05,2.95,2.75],[3.1,2.4,2.05,1.85,1.6,1.37,4.23,4.08,2.7],[3.15,3.7,3.1],[3.17,4.18,4.05],[3.2,2.5,2.1,1.9,1.7,3.6,3.4,2.4],[3.24,4.52],[3.25,3],[3.3,2.1,2,1.7,1.55,3.55,3.1,2.9,2.6],[3.35,2.75],[3.4,2.2,2,1.7,4.05,3.72,3.55,2.55],[3.44,4.4],[3.45,3.85,3.35],[3.5,4.05,3.7,2.9],[3.52,3.55],[3.55,3.6,3.35],[3.6,2.05,2,4.05,3.5,3.15],[3.64,5.13],[3.65,3.45,3.2,2.7],[3.68,4.5,3.9],[3.7,3.2,2.95],[3.78,5.13],[3.8,3.5,3.35],[3.9,2.6],[3.93,4.5],[3.95,3.4,3],[4.05,3.2],[4.08,3.82],[4.16,4.35],[4.21,4],[4.32,3.92],[4.4,4.3],[4.45,4.53],[4.46,3.95],[4.5,4.53],[4.55,4.57],[4.81,4],[4.82,4.46],[4.83,3.73],[4.98,4.3],[5.1,4.35]];
const scatterRedBearingExtra=[[.48,.5,.7,.95],[.52,.35,.55,.85,1.1],[.58,1.1,1.4,1.6,1.85],[.65,1.45,1.7,1.95],[.75,1.55,1.75,1.95,2.15,2.3],[.85,1.65,1.85,2.05,2.2],[.95,1.75,1.95,2.1,2.3],[1.05,1.75,1.9,2.1,2.25],[1.2,1.85,2.05,2.25],[1.3,1.9,2.05,2.2],[1.4,1.9,2.05,2.2],[1.5,1.9,2.05,2.2],[1.6,1.85,2.05,2.25],[1.7,1.8,1.95,2.1,2.25],[1.8,1.55,1.75,1.95,2.1],[1.9,1.5,1.7,1.9,2.1,2.3],[2,1.1,1.3,1.5,1.7,1.9,2.1,2.3,2.5],[2.1,.75,1,1.2,1.4,1.6,1.8,2,2.2,2.4,2.6],[2.2,1.2,1.55,1.9,2.15,2.4],[2.25,1.1,1.3,1.5,1.65,1.8,1.95,2.1,2.25,2.45,2.6],[2.35,1.3,1.45,1.6,1.75,1.9,2.05,2.2,2.35,2.55],[2.45,1.45,1.6,1.75,1.9,2.05,2.2,2.45,2.7],[2.55,1.45,1.6,1.75,1.9,2.05,2.2,2.4,2.65],[2.65,1.45,1.6,1.75,1.9,2.05,2.2,2.4],[2.75,1.4,1.55,1.7,1.9,2.05,2.2,2.4,2.6],[2.85,1.4,1.55,1.75,1.9,2.05,2.2,2.4,2.6],[2.95,1.45,1.6,1.75,1.9,2.05,2.2,2.5,2.75],[3.05,1.5,1.7,1.85,2.05,2.25],[3.15,1.6,1.75,1.9,2.05,2.2],[3.25,1.65,1.8,1.95,2.1],[3.35,1.7,1.85,2],[2,.7,.9],[1.9,.8,1,1.2],[1.8,.55,.75,.95,1.15],[1.7,.45,.6,.8,1],[1.6,.35,.5,.65],[1.5,.3,.42],[1.4,.27,.35]];
const scatterBlueBearing=[[.67,2.02],[.72,.1,2.1],[.78,.1,.08,.12],[.8,2.3],[.84,3.62],[.85,2.3],[.88,3.62],[.95,2.3],[1,2.55],[1.03,2.55],[1.06,2.55],[1.1,2.3],[1.14,4.18],[1.18,4.18],[1.2,.25,.35],[1.27,4.1],[1.3,.25,.3,4.97,2.2],[1.36,4.97],[1.4,.27,5.03],[1.42,5.03],[1.43,4.25],[1.46,4.25],[1.5,.28,.35,4.73,4.17],[1.51,3.4],[1.57,2.65,4.17],[1.6,.3,3.45],[1.65,2.93],[1.67,4.73],[1.68,2.65],[1.72,3.16],[1.73,5.12],[1.75,.4,.55,2.93,2.55],[1.79,4.22],[1.84,3.45],[1.9,.5,.7],[2,.65,.8],[2.1,.9,.65],[2.3,1,1.15],[2.4,1.15,1.3],[2.5,2.75],[2.6,2.65],[2.76,.93],[2.9,3.1,3],[2.95,2.9],[3,1.9,2.1,2.35],[3.1,1.8,2,2.2,2.5],[3.12,3.4],[3.15,3.2,1.15],[3.2,1.85,2.05,2.25,2.45,1.6],[3.25,1.5],[3.3,1.95,2.15,2.35,1.38],[3.35,1.17],[3.4,1.95,2.1,2.3,1.37,1.08],[3.43,1.05],[3.5,2,2.2,2.4,2.68],[3.6,1.9,2.05,2.25],[3.65,3,2.85],[3.7,2,2.15,2.35],[3.78,2.15,2.28],[3.8,2.8],[3.9,2.78],[3.93,2.7],[4,4.22],[4.05,2.25],[4.07,3.9],[4.1,3.43],[4.15,2.48],[4.2,2.72],[4.3,2.95],[4.37,2.95],[4.45,2.74],[4.46,2.95],[4.47,3.15],[4.57,2.83],[4.8,2.35,2.18],[4.83,2.95],[5,3.5],[5.1,2.22]];
const scatterBlueBearingExtra=[[1.2,.3],[1.35,.25,.32],[1.45,.28,.35],[1.55,.35,.45],[1.65,.4,.55],[1.85,.55,.75],[1.95,.7,.9],[2.05,.85],[2.25,1.05,1.25],[2.35,1.15,1.35],[2.45,1.3,1.5],[2.55,1.4,1.55,1.7],[2.65,1.55,1.7,1.85,2.05],[2.75,1.55,1.7,1.9,2.15,2.35],[2.85,1.6,1.8,2,2.25,2.5,2.7],[2.95,1.7,1.9,2.1,2.35,2.6],[3.05,1.8,2,2.2,2.4],[3.15,1.85,2,2.2,2.4],[3.25,1.9,2.1,2.3],[3.35,1.95,2.15,2.35],[3.45,2,2.2,2.4],[3.55,2,2.15,2.3],[3.65,2,2.15,2.3],[3.75,2.1,2.25]];
// Solidly overplotted core of the red rings: outline as [Waverider Hs, CODAR Hs]
const denseCoreAll=[[.53,.4],[.55,1],[.61,1.63],[.8,2],[1,2.28],[1.25,2.5],[1.47,2.58],[1.75,2.6],[1.98,2.48],[2.2,2.08],[2.1,1.85],[1.98,1.63],[1.85,1.35],[1.73,1.14],[1.62,.9],[1.51,.69],[1.3,.5],[1.13,.34],[.9,.28],[.7,.29]];
const denseCoreBearing=[[.51,.36],[.53,.7],[.57,.95],[.66,1.25],[.79,1.45],[1,1.6],[1.22,1.7],[1.45,1.72],[1.65,1.72],[1.8,1.6],[1.9,1.4],[1.82,1.15],[1.73,.95],[1.55,.65],[1.39,.4],[1.15,.27],[.91,.2],[.65,.25]];
const fitAll={fura:[.58,.34],cddo:[1.25,.05]}, fitBearing={fura:[.58,.31],cddo:[.75,.11]};
const fitRange=[.3,5];

// Heat maps: rows of [Hs bin start, T of first cell, values...]; null = empty cell
const heatFuraAll=[[5.5,12,.2],[5,6,.2,_,_,.1,_,.3],[4,3,.1,_,_,_,_,.2,.3],[3.5,4,.2,_,_,.1,_,.2,_,.6,.1],[3,6,.1,_,_,.2,.1,.4],[2.5,6,.4,.1,.1,.7,.6,.2],[2,5,.2,_,.1,.5,.7,.4,.2],[1.5,4,.4,.4,.4,1.7,3,1.9,2.6,.7],[1,4,2.6,2.4,2.1,3.2,5.2,3.7,3.2,1.9,1,.3],[.5,3,.3,9.3,5.4,3.8,4.9,4.6,3.8,5.1,2,1.2,.4,.5,.2],[0,2,.1,_,2.7,1.1,1.8,1.5,2.5,1.9,1.5,.1,.3]];
const heatFura275=[[5.5,6,.2,_,_,.1,_,_,.2],[4.5,11,.3],[3.5,7,.1,.2,.4,_,.4,.1],[3,6,.2,_,_,.1,.1,.5],[2.5,4,.1,_,.3,_,_,.9,.3,.3],[2,7,.4,.4,.6,.8,.1],[1.5,5,.5,.2,1.1,2.7,1.9,2.5,.8],[1,4,.4,1.8,2.9,3.9,5.4,3.6,3.2,1.9,1.4,.3],[.5,3,.3,2.9,9.8,6.1,6.1,5.4,3.9,5.5,2,.8,.4,.5,.2],[0,2,.1,_,3.2,1.7,1.8,1.4,2.2,1.9,1.1,.1,.3]];
const heatCddoAll=[[5.5,4,.1,_,_,_,_,0,.3,_,.1],[5,8,.1,.3,.1,_,.1],[4.5,4,.1,_,_,_,0,.3,.1,.1,.1],[4,7,0,.1,.5,.2,.1,.1],[3.5,5,0,0,.3,.4,.4,.3,.2,.1,0],[3,4,.1,_,.2,.2,.7,.3,.5,.8,.2,.1,_,.1],[2.5,4,.2,.1,.1,.1,1.9,1.3,1.8,.8,.2,_,_,0],[2,4,1,1,.7,.5,3.6,3.4,3,1,.1,.1],[1.5,4,3.7,1.2,.9,1.5,5.9,4.8,3.3,1.1,.3,.1,.1],[1,4,6.4,2.6,1.3,2.7,6.5,3.9,2.6,1.2,.4,.1,.1],[.5,4,4.4,3.2,.5,1.4,3.6,2.4,2.1,.4,.1,0],[0,4,.2,.1,_,.1,.2,.2,.1,0]];
const heatCddo330=[[5,2,0,_,_,0,_,_,_,.1],[4.5,2,0,_,0,_,_,_,_,.1,.1],[4,5,.1,_,_,_,.4,.2,.1],[3.5,4,.1,_,.1,_,_,.3,.4,.1,.1],[3,2,.1,_,_,0,_,_,0,.6,.1,.1,.1],[2.5,4,.1,0,.1,_,.1,.7,.1,.2,.1],[2,2,0,_,.2,.2,0,_,.7,.7,.8,.6,.1],[1.5,2,.1,0,1.1,.7,.6,.9,2.4,1.9,2.4,1.1,.2,.1],[1,2,0,1.6,4.9,3,2,2.3,6.9,5,4.9,.8,.1,.1],[.5,2,1.8,6,5.3,6.1,2.8,3.9,6.8,3.7,2.2,.6,.1],[0,2,2.8,2.2,.9,.8,.7,1,.7,.2,.1,.1]];
const heatRinconL=[[4.5,8,.1],[4,7,.1,.2],[3.5,7,.2,.3],[3,7,.7,.8,.2],[2.5,6,.1,1.6,.4,.3,_,.1],[2,6,.2,2.3,.9,.4,.1,.7],[1.5,4,.2,3.1,4.4,4.6,1.8,.6,.3,.1],[1,4,3.2,11.3,11,7.2,2.6,1.4,.2],[.5,3,1,8.6,14.9,9.3,2.5,1.2,.1],[0,4,.2,.7,.1]];
const heatRinconR=[[4.5,8,.1],[4,7,.1,.2],[3.5,7,.2,.4],[3,7,.7,.8,.2,.1],[2.5,6,.1,1.8,.5,.3,_,.1],[2,6,.2,2.5,1,.4,.1,.7],[1.5,5,2.6,4.8,4.5,1.8,.4,.3,.1],[1,4,2.6,11,11.7,7.6,2.1,1,.1],[.5,3,1.1,8.9,15.7,9.5,2.2,.6],[0,4,.2,.7,.1]];

const W=2161,H=3042,SANS='"Liberation Sans",Arial,sans-serif',SERIF='"Liberation Serif","Times New Roman",serif';
const BLUE="#0a0ae6",RED="#ff0000",GREEN="#0bf00b",INK="#262626",INT=d3.format("d");
const svg=d3.select("body").append("svg").attr("width",W).attr("height",H).attr("viewBox",`0 0 ${W} ${H}`);
svg.append("rect").attr("width",W).attr("height",H).attr("fill","#fff");
const defs=svg.append("defs");
svg.append("line").attr("x1",0).attr("x2",W).attr("y1",4).attr("y2",4).attr("stroke","#6a97cc").attr("stroke-width",2.5);
const cg=defs.append("radialGradient").attr("id","corner").attr("gradientUnits","userSpaceOnUse").attr("cx",22).attr("cy",3022).attr("r",125);
cg.append("stop").attr("offset",0).attr("stop-color","#b4b4b4");cg.append("stop").attr("offset",.55).attr("stop-color","#dcdcdc");cg.append("stop").attr("offset",1).attr("stop-color","#ffffff");
svg.append("rect").attr("x",0).attr("y",2897).attr("width",40).attr("height",145).attr("fill","url(#corner)");

// text helper: parts may contain [string] entries that are raised as superscripts
function label(g,o){
  const t=g.append("text").attr("font-family",o.family||SANS).attr("font-size",o.size).attr("font-weight",o.weight||"bold")
    .attr("fill",o.fill||INK).attr("text-anchor",o.anchor||"start");
  if(o.rot) t.attr("transform",`translate(${o.x},${o.y}) rotate(${o.rot})`); else t.attr("x",o.x).attr("y",o.y);
  const parts=Array.isArray(o.t)?o.t:[o.t]; let raised=false;
  parts.forEach(p=>{
    const sup=Array.isArray(p), s=t.append("tspan").text(sup?p[0]:p);
    if(sup){s.attr("dy",-o.size*.45).attr("font-size",o.size*.62);raised=true;}
    else if(raised){s.attr("dy",o.size*.45);raised=false;}
  });
  if(o.len) t.attr("textLength",o.len).attr("lengthAdjust","spacingAndGlyphs");
  return t;
}
const expand=rows=>rows.flatMap(([x,...ys])=>ys.map(y=>[x,y]));

function styleAxis(a,size,family){
  a.select(".domain").attr("stroke","#404040").attr("stroke-width",2);
  a.selectAll(".tick line").attr("stroke","#404040").attr("stroke-width",2);
  a.selectAll("text").attr("font-family",family).attr("font-weight","bold").attr("font-size",size).attr("fill",INK);
  a.attr("font-family",null).attr("font-size",null);
}
function frame(g,x,y,cfg){
  const [x0,x1]=x.range(),[y0,y1]=y.range();
  const gx=g.append("g").attr("transform",`translate(0,${y0})`).call(d3.axisBottom(x).tickValues(cfg.xt).tickSize(-(y0-y1)).tickFormat(""));
  const gy=g.append("g").attr("transform",`translate(${x0},0)`).call(d3.axisLeft(y).tickValues(cfg.yt).tickSize(-(x1-x0)).tickFormat(""));
  [gx,gy].forEach(a=>{a.select(".domain").remove();a.selectAll("line").attr("stroke","#e8e8e8").attr("stroke-width",2);});
  g.append("path").attr("d",`M${x0},${y1}H${x1}V${y0}`).attr("fill","none").attr("stroke","#8c8c8c").attr("stroke-width",1.8);
}
function axes(g,x,y,cfg){
  const [x0]=x.range(),[y0]=y.range();
  const ax=g.append("g").attr("transform",`translate(0,${y0})`).call(d3.axisBottom(x).tickValues(cfg.xt).tickFormat(cfg.xf||INT).tickSizeInner(-8).tickSizeOuter(0).tickPadding(cfg.xp));
  const ay=g.append("g").attr("transform",`translate(${x0},0)`).call(d3.axisLeft(y).tickValues(cfg.yt).tickFormat(INT).tickSizeInner(-8).tickSizeOuter(0).tickPadding(cfg.yp));
  styleAxis(ax,cfg.size,SANS);styleAxis(ay,cfg.size,SANS);
  return ax;
}

// === time series ===
const tsPanels=[
 {x0:91,x1:1042,y0:805,y1:54.5,blue:blueAllRows.concat(blueAllExtra),red:redAllRows.concat(redAllExtra),xp:19,yp:10,ylx:49,yly:430,yllen:427,
  box:[553,76,467,113],dotX:594,dotY:[98,133],lineX:[563,625],lineY:167,textX:634,textY:[109,144,180],
  lt:["FURA - 12.1 km, all bearings","CDDO - 24.2 km, all bearings","Waverider"],ll:[375,382,135]},
 {x0:1152,x1:2111,y0:808,y1:49.5,blue:blueBearingRows.concat(blueBearingExtra),red:redBearingRows.concat(redBearingExtra),xp:19,yp:10,ylx:1109,yly:428,yllen:430,
  box:[1709,72,379,129],dotX:1750,dotY:[97,140],lineX:[1720,1783],lineY:180,textX:1791,textY:[114,157,192],
  lt:[["FURA - 12.1 km, 275",["o"]],["CDDO - 24.2 km, 330",["o"]],"Waverider"],ll:[284,290,135]}
];
tsPanels.forEach(p=>{
  const g=svg.append("g");
  const x=d3.scaleLinear().domain([0,90]).range([p.x0,p.x1]);
  const y=d3.scaleLinear().domain([0,9]).range([p.y0,p.y1]);
  frame(g,x,y,{xt:timeTickDays,yt:hsTicks});
  g.append("g").selectAll("circle").data(expand(p.blue)).join("circle").attr("cx",d=>x(d[0])).attr("cy",d=>y(d[1])).attr("r",3.9).attr("fill",BLUE);
  g.append("g").selectAll("circle").data(expand(p.red)).join("circle").attr("cx",d=>x(d[0])).attr("cy",d=>y(d[1])).attr("r",3.9).attr("fill",RED);
  g.append("path").datum(waverider).attr("d",d3.line().x(d=>x(d[0])).y(d=>y(d[1]))).attr("fill","none").attr("stroke",GREEN).attr("stroke-width",8.5).attr("stroke-linejoin","round");
  axes(g,x,y,{xt:timeTickDays,yt:hsTicks,xf:(d,i)=>timeTickLabels[i],xp:p.xp,yp:p.yp,size:29});
  label(g,{x:p.ylx,y:p.yly,t:"significant wave height (m)",size:29,anchor:"middle",rot:-90,len:p.yllen});
  const [bx,by,bw,bh]=p.box;
  g.append("rect").attr("x",bx).attr("y",by).attr("width",bw).attr("height",bh).attr("fill","#fff").attr("stroke","#404040").attr("stroke-width",1.6);
  g.append("circle").attr("cx",p.dotX).attr("cy",p.dotY[0]).attr("r",3.6).attr("fill",BLUE);
  g.append("circle").attr("cx",p.dotX).attr("cy",p.dotY[1]).attr("r",3.6).attr("fill",RED);
  g.append("line").attr("x1",p.lineX[0]).attr("x2",p.lineX[1]).attr("y1",p.lineY).attr("y2",p.lineY).attr("stroke",GREEN).attr("stroke-width",6.5);
  p.lt.forEach((t,i)=>label(g,{x:p.textX,y:p.textY[i],t,size:27,fill:"#111",len:p.ll[i]}));
});

// === scatter ===
const scPanels=[
 {x0:94,x1:1059,y0:1661,y1:970,blue:scatterBlueAll.concat(scatterBlueAllExtra),red:scatterRedAll.concat(scatterRedAllExtra),core:denseCoreAll,fit:fitAll,yp:11,
  title:[["FURA: Range Cell 4 (12.1km), All Bearings",238,922,678],["CDDO: Range Cell 8 (24.2km), All Bearings",233,961,688]],
  xl:[438,1738,277],yl:[49,1314,223],
  box:[638,992,399,74],lx:[647,711],ly:[1013,1047],tx:719,ty:[1024,1058],tl:["FURA: y =  0.58x + 0.34","CDDO: y =  1.25x + 0.05"],tw:[306,313],
  r2x:729,r2y:[1590,1635],r2:[["FURA: R",["2"]," = 0.32"],["CDDO: R",["2"]," = 0.53"]],r2w:[277,286]},
 {x0:1161,x1:2124,y0:1658,y1:962,blue:scatterBlueBearing.concat(scatterBlueBearingExtra),red:scatterRedBearing.concat(scatterRedBearingExtra),core:denseCoreBearing,fit:fitBearing,yp:10,
  title:[[["FURA: Range Cell 4 (12.1km), 275",["o"]," Bearing"],1297,904,691],[["CDDO: Range Cell 8 (24.2km), 330",["o"]," Bearing"],1292,953,701]],
  xl:[1504,1738,277],yl:[1116,1310,227],
  box:[1703,985,399,76],lx:[1711,1777],ly:[1007,1041],tx:1784,ty:[1018,1052],tl:["FURA: y =  0.58x + 0.31","CDDO: y =  0.75x + 0.11"],tw:[304,312],
  r2x:1779,r2y:[1588,1632],r2:[["FURA: R",["2"]," = 0.35"],["CDDO: R",["2"]," = 0.39"]],r2w:[277,286]}
];
scPanels.forEach((p,i)=>{
  const g=svg.append("g");
  const x=d3.scaleLinear().domain([0,6]).range([p.x0,p.x1]);
  const y=d3.scaleLinear().domain([0,6]).range([p.y0,p.y1]);
  frame(g,x,y,{xt:scatterTicks,yt:scatterTicks});
  const m=g.append("g");
  const rings=(rows,c)=>m.append("g").selectAll("circle").data(expand(rows)).join("circle").attr("cx",d=>x(d[0])).attr("cy",d=>y(d[1])).attr("r",10.5).attr("fill","none").attr("stroke",c).attr("stroke-width",1.8);
  const fitLine=(f,c,xmax)=>{const xe=Math.min(xmax,(6-f[1])/f[0]);
    m.append("line").attr("x1",x(fitRange[0])).attr("y1",y(f[0]*fitRange[0]+f[1])).attr("x2",x(xe)).attr("y2",y(f[0]*xe+f[1])).attr("stroke",c).attr("stroke-width",2);};
  rings(p.blue,BLUE);fitLine(p.fit.fura,BLUE,fitRange[1]);
  m.append("path").datum(p.core).attr("d",d3.line().curve(d3.curveCatmullRomClosed).x(d=>x(d[0])).y(d=>y(d[1]))).attr("fill",RED);
  rings(p.red,RED);fitLine(p.fit.cddo,RED,fitRange[1]);
  axes(g,x,y,{xt:scatterTicks,yt:scatterTicks,xp:19,yp:p.yp,size:28});
  p.title.forEach(t=>label(g,{x:t[1],y:t[2],t:t[0],size:31,fill:"#111",len:t[3]}));
  label(g,{x:p.xl[0],y:p.xl[1],t:"Waverider Hs (m)",size:30,len:p.xl[2]});
  label(g,{x:p.yl[0],y:p.yl[1],t:"CODAR Hs (m)",size:30,anchor:"middle",rot:-90,len:p.yl[2]});
  const [bx,by,bw,bh]=p.box;
  g.append("rect").attr("x",bx).attr("y",by).attr("width",bw).attr("height",bh).attr("fill","#fff").attr("stroke","#404040").attr("stroke-width",1.6);
  [BLUE,RED].forEach((c,j)=>{
    g.append("line").attr("x1",p.lx[0]).attr("x2",p.lx[1]).attr("y1",p.ly[j]).attr("y2",p.ly[j]).attr("stroke",c).attr("stroke-width",2);
    label(g,{x:p.tx,y:p.ty[j],t:p.tl[j],size:27,fill:"#111",len:p.tw[j]});
  });
  p.r2.forEach((t,j)=>label(g,{x:p.r2x,y:p.r2y[j],t,size:36,weight:"normal",fill:"#111",len:p.r2w[j]}));
});
// the page crop hides part of the last tick of the left scatter
svg.append("rect").attr("x",1061).attr("y",1668).attr("width",40).attr("height",50).attr("fill","#fff");

// === heat maps ===
const color=d3.scaleLinear().domain(parulaStops).range(parulaColors).clamp(true);
const heatPanels=[
 {rows:heatFuraAll,x0:123,x1:929,y0:2116,y1:1815,cb:[962,1006],title:["WVLM FURA Range Cell 4, all bearings: Dec2016 - Feb2017",159,1807,733],xp:14,yp:9,xl:[461,2180,129],hl:[80,1965,79],cl:1015,dl:[1061,1966,170]},
 {rows:heatFura275,x0:1137,x1:1951,y0:2119,y1:1814,cb:[1986,2029],title:["WVLM FURA Range Cell 4, bearing 275: Dec2016 - Feb2017",1173,1806,743],xp:14,yp:10,xl:[1479,2184,132],hl:[1095,1967,80],cl:2039,dl:[2085,1967,172]},
 {rows:heatCddoAll,x0:118,x1:933,y0:2555,y1:2252,cb:[968,1011],title:["WVLM CDDO Range Cell 8, all bearings: Dec2016-Feb2017",148,2238,757],xp:14,yp:10,xl:[459,2620,133],hl:[75,2402,81],cl:1020,dl:[1066,2404,172],cover:true},
 {rows:heatCddo330,x0:1142,x1:1958,y0:2553,y1:2248,cb:[1993,2037],title:["WVLM CDDO Range Cell 8, bearing 330: Dec2016 - Feb2017",1175,2240,750],xp:14,yp:10,xl:[1484,2617,132],hl:[1099,2400,79],cl:2046,dl:[2092,2400,171]},
 {rows:heatRinconL,x0:118,x1:933,y0:2981,y1:2675,cb:[968,1011],title:["Rincon Waverider - NOAA station 41115: Dec2016 - Feb2017",153,2667,744],xp:14,yp:10,xl:[459,3040,133],hl:[75,2828,80],cl:1020,dl:[1066,2829,172]},
 {rows:heatRinconR,x0:1142,x1:1958,y0:2981,y1:2673,cb:[1993,2037],title:["Rincon Waverider - NOAA station 41115: Dec2016 - Feb2017",1177,2665,746],xp:14,yp:10,xl:[1484,3040,132],hl:[1099,2827,80],cl:2046,dl:[2092,2827,173]}
];
heatPanels.forEach((p,pi)=>{
  const g=svg.append("g");
  const x=d3.scaleLinear().domain([2,16]).range([p.x0,p.x1]);
  const y=d3.scaleLinear().domain([0,6]).range([p.y0,p.y1]);
  g.append("rect").attr("x",p.x0).attr("y",p.y1).attr("width",p.x1-p.x0).attr("height",p.y0-p.y1).attr("fill",color(0));
  const cells=p.rows.flatMap(([h,t0,...vals])=>vals.map((v,i)=>({T:t0+i,h,v})).filter(d=>d.v!==null));
  g.append("g").selectAll("rect").data(cells).join("rect").attr("x",d=>x(d.T)).attr("y",d=>y(d.h+.5)).attr("width",d=>x(d.T+1)-x(d.T)).attr("height",d=>y(d.h)-y(d.h+.5)).attr("fill",d=>color(d.v));
  const vT=d3.range(2,17), hH=d3.range(0,6.5,.5);
  const under=g.append("g").attr("stroke","#555").attr("stroke-width",1);
  under.selectAll("line.v").data(vT).join("line").attr("class","v").attr("x1",x).attr("x2",x).attr("y1",p.y0).attr("y2",p.y1);
  under.selectAll("line.h").data(hH).join("line").attr("class","h").attr("x1",p.x0).attr("x2",p.x1).attr("y1",y).attr("y2",y);
  g.append("g").selectAll("line").data(vT).join("line").attr("x1",x).attr("x2",x).attr("y1",p.y0).attr("y2",p.y1).attr("stroke","#0a0a0a").attr("stroke-width",2).attr("stroke-dasharray","7.5 3.5");
  g.append("g").selectAll("line").data(hH).join("line").attr("x1",p.x0).attr("x2",p.x1).attr("y1",y).attr("y2",y).attr("stroke","#0a0a0a").attr("stroke-width",2.6).attr("stroke-dasharray","7.5 3.5");
  g.append("g").selectAll("text").data(cells).join("text").attr("x",d=>x(d.T)+20).attr("y",d=>(y(d.h)+y(d.h+.5))/2+7).attr("font-family",SERIF).attr("font-weight","bold").attr("font-size",21).attr("fill","#0a0a0a").text(d=>d.v);
  const ax=g.append("g").attr("transform",`translate(0,${p.y0})`).call(d3.axisBottom(x).tickValues(heatXTicks).tickFormat(INT).tickSize(0).tickPadding(p.xp));
  const ay=g.append("g").attr("transform",`translate(${p.x0},0)`).call(d3.axisLeft(y).tickValues(heatYTicks).tickFormat(INT).tickSize(0).tickPadding(p.yp));
  [ax,ay].forEach(a=>{styleAxis(a,24,SERIF);a.select(".domain").remove();a.selectAll("text").attr("fill","#333");});
  // colour bar
  const cy=d3.scaleLinear().domain([0,20]).range([p.y0,p.y1]);
  g.append("g").selectAll("rect").data(d3.range(0,20,.25)).join("rect").attr("x",p.cb[0]).attr("width",p.cb[1]-p.cb[0]).attr("y",d=>cy(d+.25)).attr("height",d=>cy(d)-cy(d+.25)+.6).attr("fill",d=>color(d+.125));
  g.append("rect").attr("x",p.cb[0]).attr("y",p.y1).attr("width",p.cb[1]-p.cb[0]).attr("height",p.y0-p.y1).attr("fill","none").attr("stroke","#8a8a8a").attr("stroke-width",1.4);
  const ac=g.append("g").attr("transform",`translate(${p.cb[1]},0)`).call(d3.axisRight(cy).tickValues(cbarTicks).tickFormat(INT).tickSize(-4).tickPadding(p.cl-p.cb[1]));
  styleAxis(ac,24,SERIF);ac.select(".domain").remove();ac.selectAll("text").attr("fill","#333");ac.selectAll("line").attr("stroke","#555").attr("stroke-width",1.2);
  label(g,{x:p.title[1],y:p.title[2],t:p.title[0],size:26,family:SERIF,fill:"#0a0a0a",len:p.title[3]});
  label(g,{x:p.xl[0],y:p.xl[1],t:"Mean T (s)",size:26,family:SERIF,fill:"#333",len:p.xl[2]});
  label(g,{x:p.hl[0],y:p.hl[1],t:"Hs (m)",size:23,family:SERIF,fill:"#333",anchor:"middle",rot:-90,len:p.hl[2]});
  label(g,{x:p.dl[0],y:p.dl[1],t:"data percentage",size:22,family:SERIF,fill:"#333",anchor:"middle",rot:-90,len:p.dl[2]});
  if(p.cover) g.append("rect").attr("x",p.x0+10).attr("y",p.y1-5).attr("width",p.cb[1]-p.x0-22).attr("height",7.5).attr("fill","#fff");
});
</script></body></html>
